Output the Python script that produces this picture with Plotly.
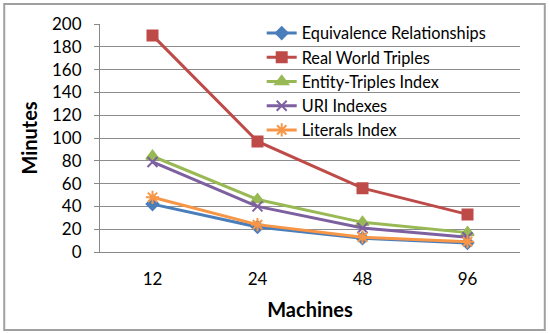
import plotly.graph_objects as go

machines = ["12", "24", "48", "96"]
equivalence = [42, 22, 12, 8]
real_world = [190, 97, 56, 33]
entity_triples = [84, 46, 26, 17]
uri_indexes = [79, 40, 21, 13]
literals = [48, 24, 13, 9]

series = [
    ("Equivalence Relationships", equivalence, "#4A7EBB", "diamond", 9),
    ("Real World Triples", real_world, "#BE4B48", "square", 10),
    ("Entity-Triples Index", entity_triples, "#98B954", "triangle-up", 11),
    ("URI Indexes", uri_indexes, "#7D60A0", "x-thin-open", 10),
    ("Literals Index", literals, "#F79646", "asterisk-open", 11),
]

FONT = "Lato, Carlito, Calibri, sans-serif"

fig = go.Figure()
for name, vals, color, sym, size in series:
    fig.add_trace(go.Scatter(
        x=machines, y=vals, name=name, mode="lines+markers",
        line=dict(color=color, width=3),
        marker=dict(symbol=sym, size=size, color=color,
                    line=dict(color=color, width=2)),
    ))

fig.update_layout(
    width=550, height=333,
    margin=dict(l=100, r=30, t=24, b=81),
    paper_bgcolor="white", plot_bgcolor="white",
    font=dict(family=FONT, size=17, color="black"),
    showlegend=True,
    legend=dict(x=0.385, y=1.035, xanchor="left", yanchor="top",
                bgcolor="rgba(0,0,0,0)", font=dict(size=16.3),
                tracegroupgap=0, itemwidth=30),
    xaxis=dict(
        type="category", range=[-0.5, 3.5],
        title=dict(text="<b>Machines</b>", font=dict(size=20), standoff=14),
        showgrid=False, showline=True, linecolor="#888888", linewidth=1,
        ticks="", tickfont=dict(size=17), ticklabelstandoff=12,
    ),
    yaxis=dict(
        range=[0, 200], dtick=20,
        title=dict(text="<b>Minutes</b>", font=dict(size=20), standoff=9),
        showgrid=True, gridcolor="#8c8c8c", gridwidth=1,
        showline=True, linecolor="#888888", linewidth=1,
        ticks="outside", ticklen=5, tickcolor="#888888",
        tickfont=dict(size=17), zeroline=False, ticklabelstandoff=9,
    ),
    shapes=[dict(type="rect", xref="paper", yref="paper",
                 x0=-0.228, x1=1.059, y0=-0.342, y1=1.088,
                 line=dict(color="#a0a0a0", width=2))],
)

fig.write_html("out.html", config={"displayModeBar": False},
               post_script="document.body.style.margin='0';")
